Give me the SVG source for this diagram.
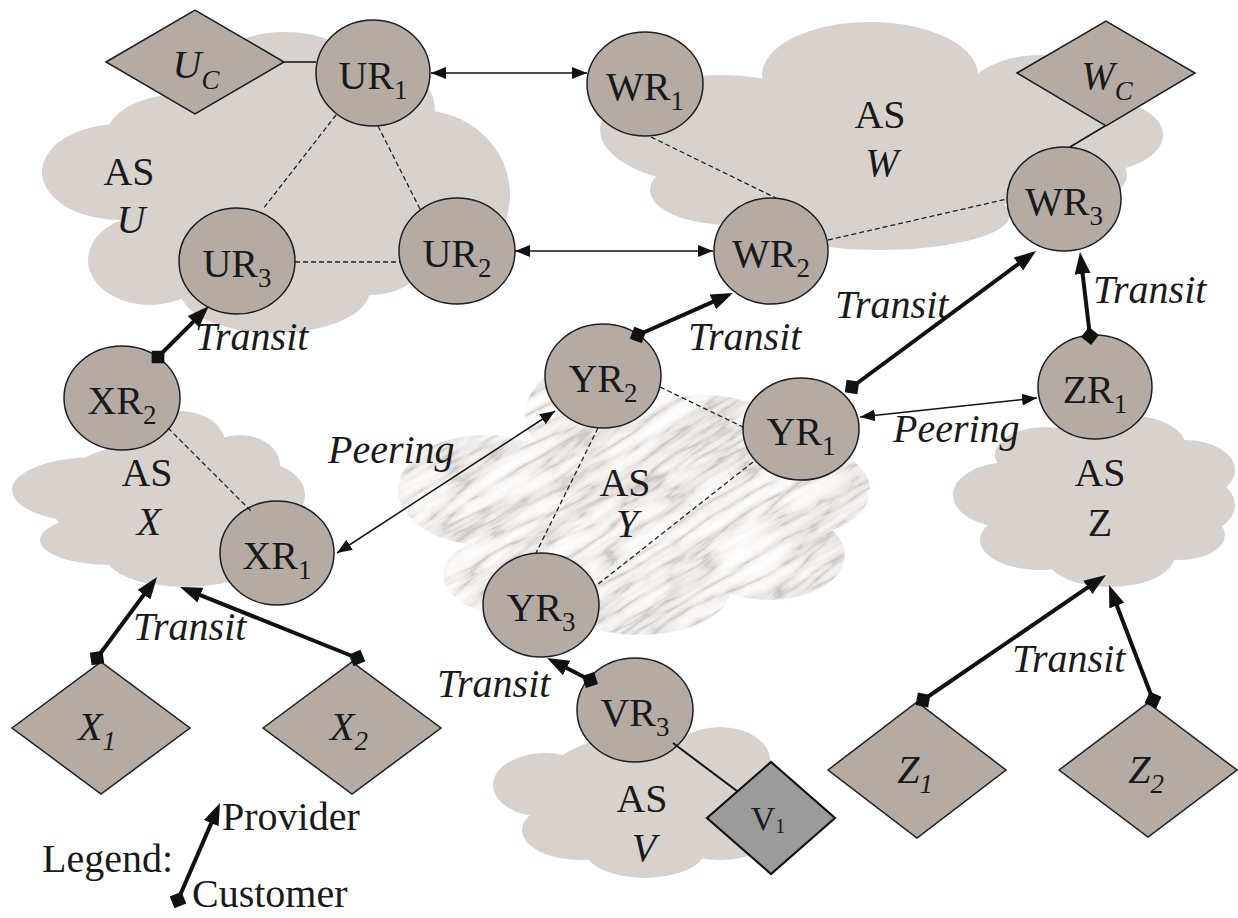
<svg xmlns="http://www.w3.org/2000/svg" width="1238" height="918" viewBox="0 0 1238 918" font-family="'Liberation Serif', 'Times New Roman', Times, 'Noto Serif', Tinos, FreeSerif, 'Nimbus Roman', 'DejaVu Serif', serif">
<style>
  .cloud { fill: #d8d2ce; }
  .router { fill: #b4aba4; stroke: #1e1e1e; stroke-width: 1.5; }
  .host { fill: #b4aba4; stroke: #1e1e1e; stroke-width: 1.5; }
  .host-dark { fill: #9b9b9b; stroke: #111; stroke-width: 2.2; }
  .lbl, .edge-lbl, .plain { fill: #1a1a1a; }
  .lbl { font-size: 40px; text-anchor: middle; }
  .sub { font-size: 27px; }
  .it { font-style: italic; }
  .edge-lbl { font-size: 40px; font-style: italic; }
  .plain { font-size: 40px; }
  .dash { stroke: #222; stroke-width: 1.3; stroke-dasharray: 5 3; fill: none; }
  .link { stroke: #111; stroke-width: 1.5; fill: none; }
  .peer { stroke: #111; stroke-width: 1.5; fill: none; marker-start: url(#thinHead); marker-end: url(#thinHead); }
  .transit { stroke: #111; stroke-width: 4; fill: none; marker-start: url(#tail); marker-end: url(#thickHead); }
</style>
<defs>
<marker id="thinHead" markerUnits="userSpaceOnUse" markerWidth="16" markerHeight="14" viewBox="0 -7 16 14" refX="15" refY="0" orient="auto-start-reverse">
  <path d="M0,-6 L15,0 L0,6 z" fill="#111"/>
</marker>
<marker id="thickHead" markerUnits="userSpaceOnUse" markerWidth="24" markerHeight="18" viewBox="0 -9 24 18" refX="11" refY="0" orient="auto">
  <path d="M0,-8 L22,0 L0,8 z" fill="#111"/>
</marker>
<marker id="tail" markerUnits="userSpaceOnUse" markerWidth="20" markerHeight="20" viewBox="-10 -10 20 20" refX="0" refY="0" orient="auto">
  <path d="M-9,0 L0,-9 L9,0 L0,9 z" fill="#111"/>
</marker>
<filter id="marble" x="0" y="0" width="1" height="1" color-interpolation-filters="sRGB">
  <feTurbulence type="turbulence" baseFrequency="0.012 0.07" numOctaves="4" seed="7" result="n"/>
  <feColorMatrix in="n" type="matrix" values="1 0 0 0 0  1 0 0 0 0  1 0 0 0 0  0 0 0 0 1"/>
  <feComponentTransfer>
    <feFuncR type="table" tableValues="0.76 0.91 0.965 0.99 1 1"/>
    <feFuncG type="table" tableValues="0.73 0.9 0.96 0.985 1 1"/>
    <feFuncB type="table" tableValues="0.71 0.89 0.955 0.98 1 1"/>
  </feComponentTransfer>
</filter>
<clipPath id="yClip">
  <ellipse cx="485" cy="490" rx="87" ry="55"/>
  <ellipse cx="600" cy="415" rx="75" ry="55"/>
  <ellipse cx="705" cy="440" rx="80" ry="45"/>
  <ellipse cx="800" cy="490" rx="70" ry="45"/>
  <ellipse cx="770" cy="555" rx="75" ry="45"/>
  <ellipse cx="535" cy="575" rx="92" ry="45"/>
  <ellipse cx="640" cy="590" rx="90" ry="45"/>
  <ellipse cx="640" cy="500" rx="150" ry="90"/>
</clipPath>
</defs>

<rect width="1238" height="918" fill="#ffffff"/>

<!-- autonomous systems -->
<g id="as-u">
  <g class="cloud">
    <ellipse cx="120" cy="172" rx="78" ry="48"/>
    <ellipse cx="285" cy="100" rx="95" ry="68"/>
    <ellipse cx="175" cy="140" rx="70" ry="45"/>
    <ellipse cx="345" cy="110" rx="90" ry="60"/>
    <ellipse cx="150" cy="260" rx="62" ry="45"/>
    <ellipse cx="275" cy="290" rx="95" ry="43"/>
    <ellipse cx="290" cy="210" rx="150" ry="85"/>
    <ellipse cx="420" cy="195" rx="90" ry="85"/>
    <ellipse cx="370" cy="265" rx="50" ry="30"/>
  </g>
  <text class="lbl" x="129" y="185">AS</text>
  <text class="lbl it" x="131" y="233">U</text>
</g>

<g id="as-w">
  <g class="cloud">
    <ellipse cx="720" cy="130" rx="120" ry="55"/>
    <ellipse cx="730" cy="190" rx="80" ry="35"/>
    <ellipse cx="870" cy="75" rx="108" ry="53"/>
    <ellipse cx="1040" cy="105" rx="80" ry="50"/>
    <ellipse cx="1090" cy="135" rx="73" ry="38"/>
    <ellipse cx="1065" cy="175" rx="62" ry="30"/>
    <ellipse cx="880" cy="215" rx="130" ry="35"/>
    <ellipse cx="880" cy="150" rx="170" ry="80"/>
  </g>
  <text class="lbl" x="880" y="128">AS</text>
  <text class="lbl it" x="882" y="176">W</text>
</g>

<g id="as-x">
  <g class="cloud">
    <ellipse cx="95" cy="490" rx="83" ry="33"/>
    <ellipse cx="110" cy="540" rx="70" ry="25"/>
    <ellipse cx="180" cy="443" rx="45" ry="32"/>
    <ellipse cx="240" cy="465" rx="40" ry="30"/>
    <ellipse cx="250" cy="495" rx="55" ry="35"/>
    <ellipse cx="170" cy="500" rx="120" ry="60"/>
    <ellipse cx="185" cy="555" rx="80" ry="32"/>
  </g>
  <text class="lbl" x="147" y="486">AS</text>
  <text class="lbl it" x="149" y="535">X</text>
</g>

<g id="as-y">
  <g clip-path="url(#yClip)">
    <rect x="320" y="220" width="640" height="560" transform="rotate(-32 634 500)" filter="url(#marble)"/>
  </g>
  <text class="lbl" x="625" y="496">AS</text>
  <text class="lbl it" x="627" y="537">Y</text>
</g>

<g id="as-z">
  <g class="cloud">
    <ellipse cx="1010" cy="495" rx="57" ry="33"/>
    <ellipse cx="1045" cy="455" rx="50" ry="28"/>
    <ellipse cx="1125" cy="445" rx="60" ry="30"/>
    <ellipse cx="1185" cy="470" rx="50" ry="30"/>
    <ellipse cx="1190" cy="505" rx="45" ry="30"/>
    <ellipse cx="1040" cy="540" rx="60" ry="30"/>
    <ellipse cx="1110" cy="555" rx="65" ry="32"/>
    <ellipse cx="1180" cy="535" rx="45" ry="25"/>
    <ellipse cx="1100" cy="500" rx="110" ry="55"/>
  </g>
  <text class="lbl" x="1100" y="486">AS</text>
  <text class="lbl" x="1100" y="536">Z</text>
</g>

<g id="as-v">
  <g class="cloud">
    <ellipse cx="545" cy="785" rx="52" ry="32"/>
    <ellipse cx="720" cy="760" rx="50" ry="33"/>
    <ellipse cx="580" cy="830" rx="58" ry="30"/>
    <ellipse cx="645" cy="850" rx="60" ry="28"/>
    <ellipse cx="720" cy="830" rx="55" ry="30"/>
    <ellipse cx="640" cy="790" rx="100" ry="55"/>
  </g>
  <text class="lbl" x="642" y="812">AS</text>
  <text class="lbl it" x="644" y="861">V</text>
</g>

<!-- routers -->
<g id="ur1"><ellipse class="router" cx="373" cy="73" rx="57" ry="53"/><text class="lbl" x="373" y="89">UR<tspan class="sub" dy="10">1</tspan></text></g>
<g id="ur2"><ellipse class="router" cx="457" cy="251" rx="58" ry="53"/><text class="lbl" x="457" y="267">UR<tspan class="sub" dy="10">2</tspan></text></g>
<g id="ur3"><ellipse class="router" cx="237" cy="261" rx="58" ry="53"/><text class="lbl" x="237" y="277">UR<tspan class="sub" dy="10">3</tspan></text></g>
<g id="wr1"><ellipse class="router" cx="645" cy="84" rx="58" ry="52"/><text class="lbl" x="645" y="100">WR<tspan class="sub" dy="10">1</tspan></text></g>
<g id="wr2"><ellipse class="router" cx="771" cy="251" rx="57" ry="53"/><text class="lbl" x="771" y="267">WR<tspan class="sub" dy="10">2</tspan></text></g>
<g id="wr3"><ellipse class="router" cx="1064" cy="199" rx="57" ry="52"/><text class="lbl" x="1064" y="215">WR<tspan class="sub" dy="10">3</tspan></text></g>
<g id="xr1"><ellipse class="router" cx="277" cy="553" rx="57" ry="52"/><text class="lbl" x="277" y="569">XR<tspan class="sub" dy="10">1</tspan></text></g>
<g id="xr2"><ellipse class="router" cx="122" cy="398" rx="58" ry="52"/><text class="lbl" x="122" y="414">XR<tspan class="sub" dy="10">2</tspan></text></g>
<g id="yr1"><ellipse class="router" cx="801" cy="429" rx="58" ry="51"/><text class="lbl" x="801" y="445">YR<tspan class="sub" dy="10">1</tspan></text></g>
<g id="yr2"><ellipse class="router" cx="603" cy="376" rx="58" ry="52"/><text class="lbl" x="603" y="392">YR<tspan class="sub" dy="10">2</tspan></text></g>
<g id="yr3"><ellipse class="router" cx="541" cy="605" rx="58" ry="52"/><text class="lbl" x="541" y="621">YR<tspan class="sub" dy="10">3</tspan></text></g>
<g id="zr1"><ellipse class="router" cx="1095" cy="387" rx="57" ry="52"/><text class="lbl" x="1095" y="403">ZR<tspan class="sub" dy="10">1</tspan></text></g>
<g id="vr3"><ellipse class="router" cx="635" cy="710" rx="58" ry="52"/><text class="lbl" x="635" y="726">VR<tspan class="sub" dy="10">3</tspan></text></g>

<!-- customer / end hosts -->
<g id="uc"><polygon class="host" points="106,62 195,10 284,62 195,114"/><text class="lbl it" x="196" y="78">U<tspan class="sub" dy="11">C</tspan></text></g>
<g id="wc"><polygon class="host" points="1017,73 1106,21 1195,73 1106,126"/><text class="lbl it" x="1107" y="89">W<tspan class="sub" dy="11">C</tspan></text></g>
<g id="x1"><polygon class="host" points="12,728 101,662 190,728 101,794"/><text class="lbl it" x="97" y="740">X<tspan class="sub" dy="10">1</tspan></text></g>
<g id="x2"><polygon class="host" points="263,728 352,662 441,728 352,794"/><text class="lbl it" x="349" y="740">X<tspan class="sub" dy="10">2</tspan></text></g>
<g id="z1"><polygon class="host" points="828,770 917,702 1006,770 917,838"/><text class="lbl it" x="915" y="783">Z<tspan class="sub" dy="10">1</tspan></text></g>
<g id="z2"><polygon class="host" points="1059,770 1148,703 1237,770 1148,837"/><text class="lbl it" x="1146" y="783">Z<tspan class="sub" dy="10">2</tspan></text></g>
<g id="v1"><polygon class="host-dark" points="707,818 771,762 835,818 771,874"/><text class="lbl" x="768" y="830" style="font-size:34px">V<tspan dy="3" style="font-size:20px">1</tspan></text></g>

<!-- links -->
<g id="connectors">
  <line class="dash" x1="336" y1="115" x2="263" y2="209"/>
  <line class="dash" x1="378" y1="126" x2="420" y2="209"/>
  <line class="dash" x1="295" y1="262" x2="400" y2="262"/>
  <line class="dash" x1="651" y1="137" x2="776" y2="198"/>
  <line class="dash" x1="828" y1="240" x2="1007" y2="199"/>
  <line class="dash" x1="168" y1="428" x2="252" y2="512"/>
  <line class="dash" x1="660" y1="387" x2="745" y2="428"/>
  <line class="dash" x1="598" y1="428" x2="536" y2="553"/>
  <line class="dash" x1="753" y1="462" x2="597" y2="585"/>

  <line class="link" x1="284" y1="62" x2="316" y2="62"/>
  <line class="link" x1="1105" y1="126" x2="1070" y2="147"/>
  <line class="link" x1="673" y1="743" x2="737" y2="791" style="stroke-width:2"/>

  <line class="peer" x1="431" y1="73" x2="587" y2="73"/>
  <line class="peer" x1="515" y1="251" x2="713" y2="251"/>
  <line class="peer" x1="337" y1="553" x2="555" y2="411"/>
  <line class="peer" x1="860" y1="417" x2="1037" y2="398"/>

  <line class="transit" x1="158" y1="357" x2="201.2" y2="313.8"/>
  <line class="transit" x1="638" y1="335" x2="722.9" y2="297.4"/>
  <line class="transit" x1="852" y1="387" x2="1027.2" y2="257.5"/>
  <line class="transit" x1="1090" y1="336" x2="1081.3" y2="262.9"/>
  <line class="transit" x1="97" y1="658" x2="150.5" y2="585.8"/>
  <line class="transit" x1="357" y1="658" x2="190.2" y2="591.1"/>
  <line class="transit" x1="590" y1="680" x2="556.8" y2="663"/>
  <line class="transit" x1="923" y1="700" x2="1096.9" y2="581.2"/>
  <line class="transit" x1="1153" y1="700" x2="1112.9" y2="595.3"/>
</g>

<!-- relationship labels -->
<g id="edge-labels">
  <text class="edge-lbl" x="195" y="350">Transit</text>
  <text class="edge-lbl" x="688" y="350">Transit</text>
  <text class="edge-lbl" x="835" y="318">Transit</text>
  <text class="edge-lbl" x="1093" y="303">Transit</text>
  <text class="edge-lbl" x="893" y="442">Peering</text>
  <text class="edge-lbl" x="328" y="463">Peering</text>
  <text class="edge-lbl" x="133" y="640">Transit</text>
  <text class="edge-lbl" x="437" y="697">Transit</text>
  <text class="edge-lbl" x="1012" y="672">Transit</text>
</g>

<g id="legend">
  <text class="plain" x="42" y="872">Legend:</text>
  <line class="transit" x1="178" y1="900" x2="215.6" y2="813.1"/>
  <text class="plain" x="222" y="830">Provider</text>
  <text class="plain" x="192" y="907">Customer</text>
</g>
</svg>
